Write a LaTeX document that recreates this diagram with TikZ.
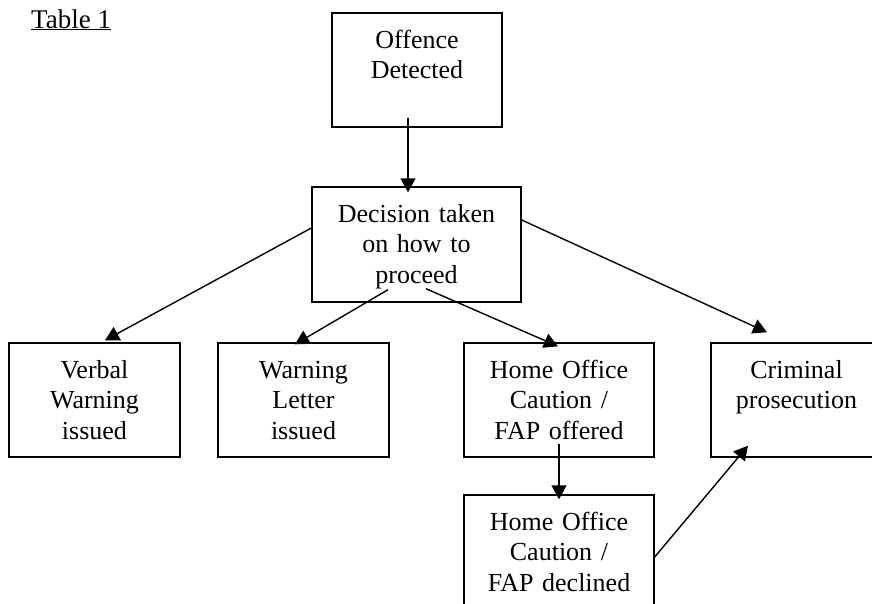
\documentclass[tikz,border=0pt]{standalone}
\usepackage{fontspec}
\setmainfont{Liberation Serif}
\usetikzlibrary{calc,arrows.meta}
\tikzset{
  px/.style={x=1pt,y=-1pt},
  box/.style={draw,line width=1.4pt,inner sep=0pt,align=center,
    font=\fontsize{26}{30.5}\selectfont,text height=35pt},
  conn/.style={line width=1.4pt,-{Triangle[length=14pt,width=15pt]}}
}
\begin{document}
\begin{tikzpicture}[px]
\useasboundingbox (0,0) rectangle (872,603);
\clip (0,0) rectangle (872,603);
\node[anchor=base west,inner sep=0pt,font=\fontsize{27}{31}\selectfont] (title) at (31,28) {\underline{Table 1}};
\node[box,text width=170pt,text depth=79pt] (off) at (417,70) {Offence\\Detected};
\node[box,text width=209pt,text depth=80pt] (dec) at (416.5,244.5) {Decision taken\\on how to\\proceed};
\node[box,text width=171pt,text depth=79pt] (verbal) at (94.5,400) {Verbal\\Warning\\issued};
\node[box,text width=171pt,text depth=79pt] (letter) at (303.5,400) {Warning\\Letter\\issued};
\node[box,text width=190pt,text depth=79pt] (hoo) at (559,400) {Home Office\\Caution /\\FAP offered};
\node[box,text width=171pt,text depth=79pt] (crim) at (796.5,400) {Criminal\\prosecution};
\node[box,text width=190pt,text depth=79pt] (hod) at (559,552) {Home Office\\Caution /\\FAP declined};
\draw[conn] ($(off.south)+(-9,-10)$) -- ($(dec.north)+(-8.5,6)$);
\draw[conn] ($(dec.west)+(0,-16.5)$) -- ($(verbal.north)+(10.5,-2)$);
\draw[conn] ($(dec.south)+(-28.5,-13)$) -- ($(letter.north)+(-8.5,2)$);
\draw[conn] ($(dec.south)+(9.5,-14)$) -- ($(hoo.north)+(-1,4)$);
\draw[conn] ($(dec.east)+(0,-24.5)$) -- ($(crim.north)+(-29.5,-10)$);
\draw[conn] ($(hoo.south)+(0,-14)$) -- ($(hod.north)+(0,5)$);
\draw[conn] ($(hod.east)+(0,5)$) -- ($(crim.south)+(-48.5,-12)$);
\end{tikzpicture}
\end{document}
